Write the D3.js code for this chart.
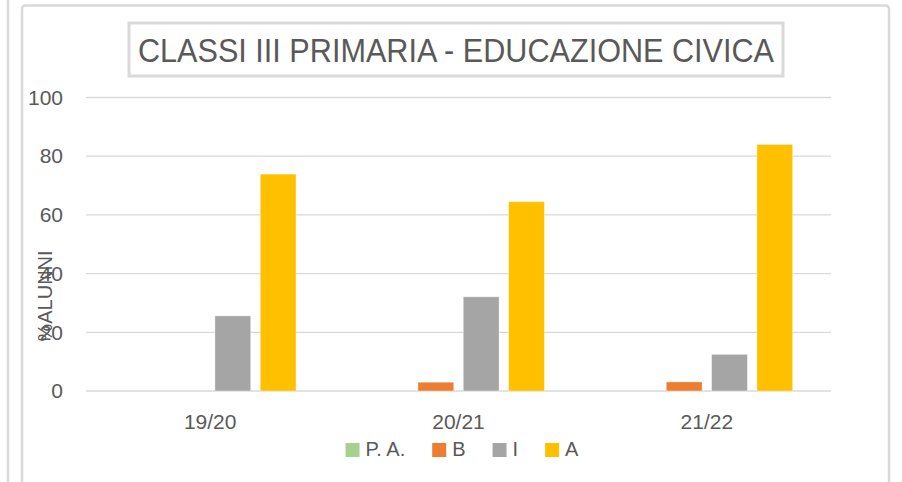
<!DOCTYPE html>
<html>
<head>
<meta charset="utf-8">
<script src="https://cdn.jsdelivr.net/npm/d3@7"></script>
<style>
  body { margin: 0; background: #fff; }
  text { font-family: "Liberation Sans", Arial, sans-serif; fill: #595959; }
</style>
</head>
<body>
<svg class="chart" width="902" height="482"></svg>
<script>
  const categories = ["19/20", "20/21", "21/22"];
  const seriesNames = ["P. A.", "B", "I", "A"];
  const valuesPA = [0, 0, 0];
  const valuesB = [0, 3.0, 3.1];
  const valuesI = [25.6, 32.1, 12.5];
  const valuesA = [73.9, 64.5, 84.0];
  const yTicks = [0, 20, 40, 60, 80, 100];
  const colors = ["#A9D18E", "#ED7D31", "#A5A5A5", "#FFC000"];

  const svg = d3.select(".chart");
  const width = +svg.attr("width");
  const height = +svg.attr("height");

  // neighbour chart edge + chart frame (open at the bottom, runs off the page)
  svg.append("line")
    .attr("x1", 8).attr("x2", 8).attr("y1", 0).attr("y2", height)
    .attr("stroke", "#d9d9d9").attr("stroke-width", 2.5);
  svg.append("path")
    .attr("d", `M22,${height} V9 Q22,5.5 25.5,5.5 H885.5 Q889,5.5 889,9 V${height}`)
    .attr("fill", "none").attr("stroke", "#d9d9d9").attr("stroke-width", 2.5);

  // title box
  svg.append("rect")
    .attr("x", 129).attr("y", 23).attr("width", 654).attr("height", 53)
    .attr("fill", "#fff").attr("stroke", "#d9d9d9").attr("stroke-width", 3);
  svg.append("text")
    .attr("x", 456).attr("y", 62)
    .attr("text-anchor", "middle")
    .style("font-size", "33px")
    .attr("textLength", 636).attr("lengthAdjust", "spacingAndGlyphs")
    .text("CLASSI III PRIMARIA - EDUCAZIONE CIVICA");

  const margin = { top: 97.5, left: 86, right: 71, bottom: 91 };
  const innerWidth = width - margin.left - margin.right;
  const innerHeight = height - margin.top - margin.bottom;

  const g = svg.append("g")
    .attr("transform", `translate(${margin.left},${margin.top})`);

  const yScale = d3.scaleLinear().domain([0, 100]).range([innerHeight, 0]);
  const x0 = d3.scaleBand().domain(categories).range([0, innerWidth]).padding(0);
  const x1 = d3.scaleBand().domain(seriesNames).range([0, x0.bandwidth()])
    .paddingInner(0.21).paddingOuter(0.845);

  // gridlines
  g.selectAll(".grid").data(yTicks)
    .enter().append("line")
      .attr("class", "grid")
      .attr("x1", 0).attr("x2", innerWidth)
      .attr("y1", d => yScale(d)).attr("y2", d => yScale(d))
      .attr("stroke", "#d9d9d9").attr("stroke-width", 1.3);

  // y tick labels
  const yAxis = g.append("g").call(d3.axisLeft(yScale).tickValues(yTicks).tickSize(0).tickPadding(23));
  yAxis.select(".domain").remove();
  yAxis.selectAll("text")
    .style("font-size", "21px").attr("fill", "#595959")
    .style("font-family", "'Liberation Sans', Arial, sans-serif");

  // x labels
  const xAxis = g.append("g")
    .attr("transform", `translate(0,${innerHeight})`)
    .call(d3.axisBottom(x0).tickSize(0).tickPadding(23));
  xAxis.select(".domain").remove();
  xAxis.selectAll("text")
    .style("font-size", "21px").attr("fill", "#595959")
    .style("font-family", "'Liberation Sans', Arial, sans-serif");

  // bars
  const seriesValues = [valuesPA, valuesB, valuesI, valuesA];
  const rows = [];
  categories.forEach((c, i) => {
    seriesNames.forEach((s, j) => {
      rows.push({ cat: c, name: s, value: seriesValues[j][i], color: colors[j] });
    });
  });
  g.selectAll("rect.bar").data(rows.filter(d => d.value > 0))
    .enter().append("rect")
      .attr("class", "bar")
      .attr("x", d => x0(d.cat) + x1(d.name))
      .attr("y", d => yScale(d.value))
      .attr("width", x1.bandwidth())
      .attr("height", d => innerHeight - yScale(d.value))
      .attr("fill", d => d.color)
      .attr("stroke", "#fff").attr("stroke-opacity", 0.5).attr("stroke-width", 0.75);

  // y axis title (overlaps the 40/20 labels, as in the original)
  svg.append("text")
    .attr("transform", "translate(52,296) rotate(-90)")
    .attr("text-anchor", "middle")
    .style("font-size", "20px")
    .text("%ALUNNI");

  // legend
  const legend = svg.append("g");
  let lx = 0;
  seriesNames.forEach((s, i) => {
    const it = legend.append("g");
    it.append("rect").attr("x", 0).attr("y", -13).attr("width", 14).attr("height", 14)
      .attr("fill", colors[i]);
    const t = it.append("text").attr("x", 20).attr("y", 0)
      .style("font-size", "20px").text(s);
    const w = 20 + t.node().getComputedTextLength();
    it.attr("transform", `translate(${lx},0)`);
    lx += w + 27;
  });
  const legendWidth = lx - 27;
  legend.attr("transform", `translate(${462 - legendWidth / 2},456)`);
</script>
</body>
</html>
